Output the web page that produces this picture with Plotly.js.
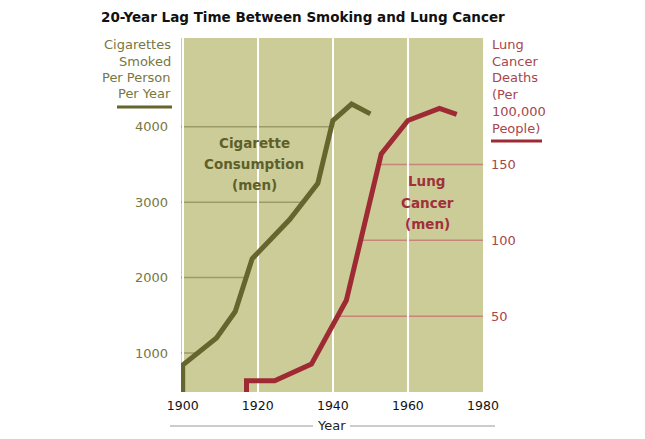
<!DOCTYPE html>
<html>
<head>
<meta charset="utf-8">
<script src="https://cdn.plot.ly/plotly-3.0.1.min.js"></script>
<style>html,body{margin:0;padding:0;background:#fff;}#chart{width:645px;height:439px;}</style>
</head>
<body>
<div id="chart"></div>
<script>
// ---- data ----
const cigYears = [1900, 1900, 1909, 1914, 1918.5, 1928.5, 1936, 1940, 1945, 1950];
const cigValues = [480, 840, 1200, 1550, 2250, 2770, 3250, 4080, 4300, 4170];
const lungYears = [1917, 1917, 1924.5, 1934.3, 1943.6, 1952.9, 1960, 1968.4, 1973];
const lungValues = [0, 7.4, 7.4, 18.4, 60.5, 157, 179, 187, 183];
const xTicks = [1900, 1920, 1940, 1960, 1980];
const cigTicks = [1000, 2000, 3000, 4000];
const lungTicks = [50, 100, 150];
const leftTitleLines = ['Cigarettes', 'Smoked', 'Per Person', 'Per Year'];
const rightTitleLines = ['Lung', 'Cancer', 'Deaths', '(Per', '100,000', 'People)'];
const cigLabelLines = ['Cigarette', 'Consumption', '(men)'];
const lungLabelLines = ['Lung', 'Cancer', '(men)'];
const titleText = '20-Year Lag Time Between Smoking and Lung Cancer';
const xTitle = 'Year';

// ---- styling ----
const FONT = 'DejaVu Sans, Verdana, sans-serif';
const OLIVE = '#65652d', OLIVE_TXT = '#77773f', OLIVE_LBL = '#5f5f2a';
const RED = '#9e2a33', RED_TXT = '#a8464b', RED_LBL = '#a0303a';
const BG = '#cccc99';
const M = {l: 181, r: 162, t: 38, b: 47};
const W = 645, H = 439;
const PW = W - M.l - M.r, PH = H - M.t - M.b;
const px = x => (x - M.l) / PW;
const py = y => (H - M.b - y) / PH;

// crossing of a polyline with a horizontal level
function crossX(xs, ys, level) {
  for (let i = 1; i < xs.length; i++) {
    const a = ys[i - 1], b = ys[i];
    if ((a - level) * (b - level) <= 0 && a !== b) {
      return xs[i - 1] + (xs[i] - xs[i - 1]) * (level - a) / (b - a);
    }
  }
  return xs[xs.length - 1];
}

const xRange = [1899.55, 1980];
const shapes = [];
cigTicks.forEach(v => {
  shapes.push({type: 'line', xref: 'x', yref: 'y', layer: 'below',
    x0: xRange[0], x1: crossX(cigYears, cigValues, v), y0: v, y1: v,
    line: {color: '#9b9b68', width: 1.5}});
});
lungTicks.forEach(v => {
  shapes.push({type: 'line', xref: 'x', yref: 'y2', layer: 'below',
    x0: crossX(lungYears, lungValues, v), x1: xRange[1], y0: v, y1: v,
    line: {color: '#c8857a', width: 1.5}});
});
// underline bars of the axis titles
shapes.push({type: 'line', xref: 'paper', yref: 'paper', x0: px(117), x1: px(172), y0: py(107), y1: py(107), line: {color: OLIVE, width: 3}});
shapes.push({type: 'line', xref: 'paper', yref: 'paper', x0: px(491), x1: px(542), y0: py(141), y1: py(141), line: {color: RED, width: 3}});
// lines around the x-axis title
shapes.push({type: 'line', xref: 'paper', yref: 'paper', x0: px(170), x1: px(313), y0: py(426), y1: py(426), line: {color: '#999999', width: 1}});
shapes.push({type: 'line', xref: 'paper', yref: 'paper', x0: px(350), x1: px(495), y0: py(426), y1: py(426), line: {color: '#999999', width: 1}});

const annotations = [];
leftTitleLines.forEach((t, i) => annotations.push({
  xref: 'paper', yref: 'paper', x: px(173), y: py(45 + i * 16.3), xanchor: 'right', yanchor: 'middle',
  text: t, showarrow: false, font: {family: FONT, size: 13, color: OLIVE_TXT}}));
rightTitleLines.forEach((t, i) => annotations.push({
  xref: 'paper', yref: 'paper', x: px(490), y: py(44.5 + i * 16.7), xanchor: 'left', yanchor: 'middle',
  text: t, showarrow: false, font: {family: FONT, size: 13, color: RED_TXT}}));
cigLabelLines.forEach((t, i) => annotations.push({
  xref: 'paper', yref: 'paper', x: px(254), y: py(142.5 + i * 21), xanchor: 'center', yanchor: 'middle',
  text: '<b>' + t + '</b>', showarrow: false, font: {family: FONT, size: 13.5, color: OLIVE_LBL}}));
lungLabelLines.forEach((t, i) => annotations.push({
  xref: 'paper', yref: 'paper', x: px(427), y: py(181.5 + i * 21), xanchor: 'center', yanchor: 'middle',
  text: '<b>' + t + '</b>', showarrow: false, font: {family: FONT, size: 13.5, color: RED_LBL}}));
annotations.push({xref: 'paper', yref: 'paper', x: px(331), y: py(426), xanchor: 'center', yanchor: 'middle',
  text: xTitle, showarrow: false, font: {family: FONT, size: 13, color: '#222222'}});

const traces = [
  {x: cigYears, y: cigValues, type: 'scatter', mode: 'lines', yaxis: 'y',
   line: {color: OLIVE, width: 5}, hoverinfo: 'skip'},
  {x: lungYears, y: lungValues, type: 'scatter', mode: 'lines', yaxis: 'y2',
   line: {color: RED, width: 5}, hoverinfo: 'skip'}
];

const layout = {
  width: W, height: H, margin: M,
  paper_bgcolor: '#ffffff', plot_bgcolor: BG,
  showlegend: false,
  font: {family: FONT},
  title: {text: '<b>' + titleText + '</b>', xref: 'container', yref: 'container',
    x: 101 / W, xanchor: 'left', y: 1 - 17 / H, yanchor: 'middle',
    font: {family: FONT, size: 13.5, color: '#111111'}},
  xaxis: {range: xRange, tickvals: xTicks, ticktext: xTicks.map(String),
    showgrid: true, gridcolor: '#ffffff', gridwidth: 2, zeroline: false, showline: false,
    ticks: '', ticklabelstandoff: 4, tickfont: {family: FONT, size: 12.5, color: '#111111'}},
  yaxis: {range: [483, 5176], tickvals: cigTicks, ticktext: cigTicks.map(String),
    showgrid: false, zeroline: false, showline: false, ticks: '', ticklabelstandoff: 12,
    tickfont: {family: FONT, size: 13, color: OLIVE_TXT}},
  yaxis2: {range: [0, 233.4], overlaying: 'y', side: 'right', tickvals: lungTicks, ticktext: lungTicks.map(String),
    showgrid: false, zeroline: false, showline: false, ticks: '', ticklabelstandoff: 7,
    tickfont: {family: FONT, size: 13, color: RED_TXT}},
  shapes: shapes,
  annotations: annotations
};

Plotly.newPlot('chart', traces, layout, {displayModeBar: false, staticPlot: true});
</script>
</body>
</html>
